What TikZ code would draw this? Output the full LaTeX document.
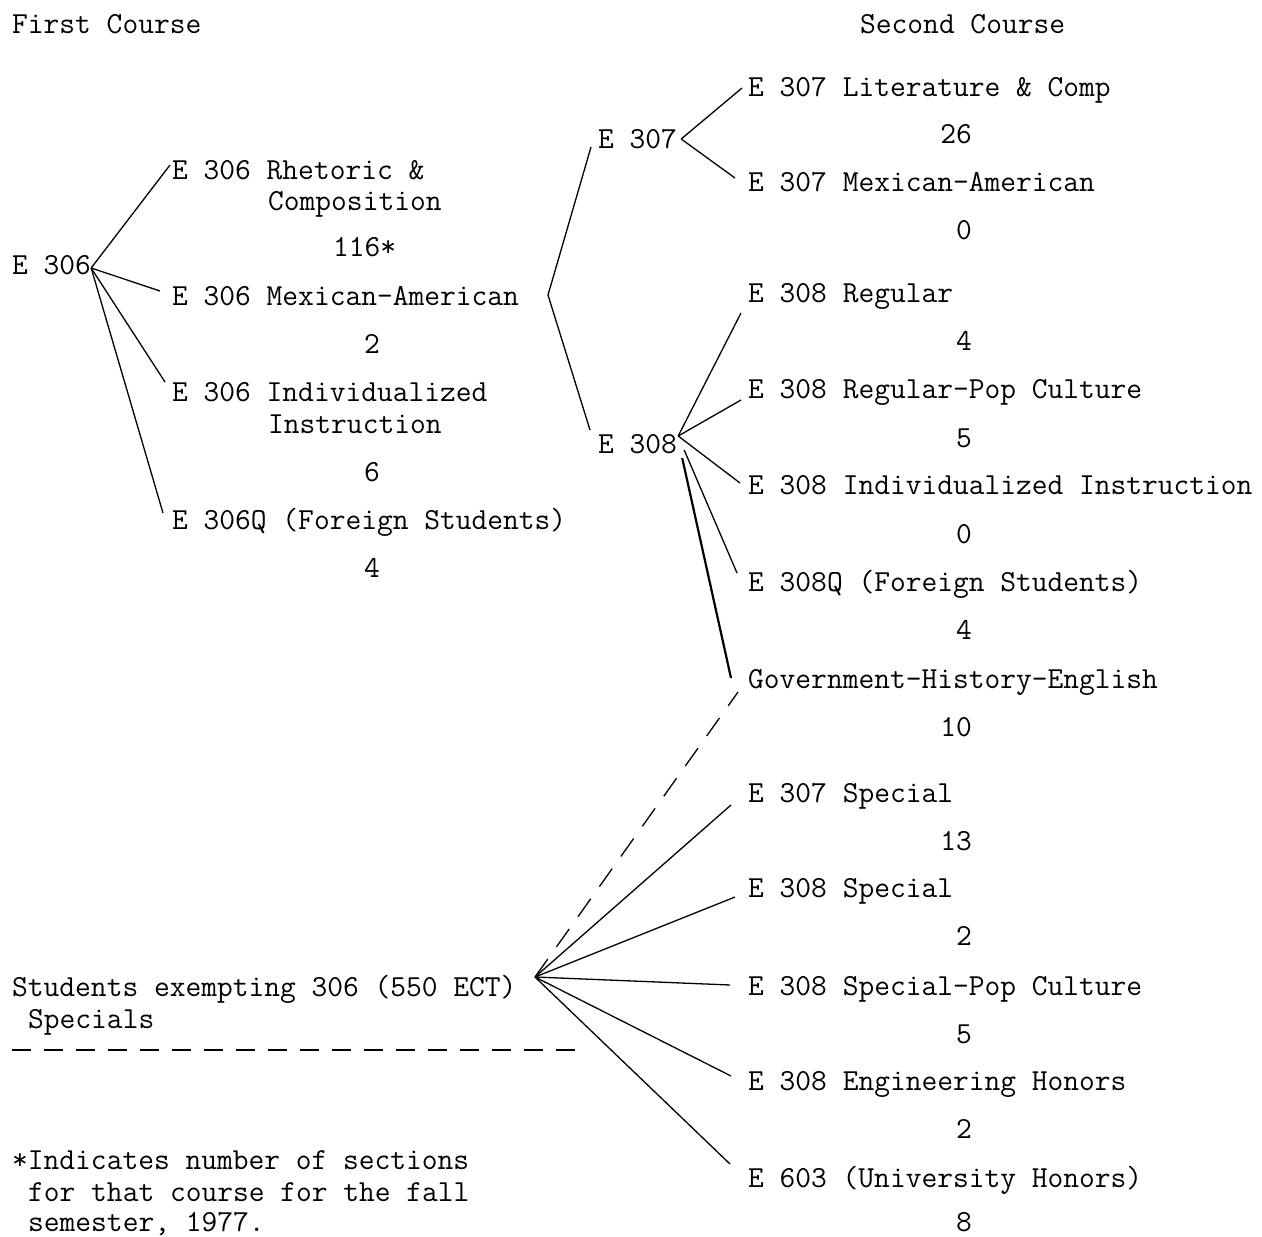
\documentclass[tikz,border=0pt]{standalone}
\usepackage{fontspec}
\begin{document}
\begin{tikzpicture}[x=1pt,y=-1pt,
  lbl/.style={anchor=base west,inner sep=0pt,font=\fontsize{30.6}{32}\selectfont\ttfamily},
  num/.style={anchor=base east,inner sep=0pt,font=\fontsize{30.6}{32}\selectfont\ttfamily},
  conn/.style={line width=1.3pt},
  heavy/.style={line width=2.2pt},
  dashconn/.style={line width=1.3pt,dash pattern=on 22pt off 15pt},
  sep/.style={line width=1.3pt,dash pattern=on 19pt off 13pt}]
\useasboundingbox (0,0) rectangle (1262,1237);
% headings
\node[lbl] (h1) at (12,33) {First Course};
\node[lbl] (h2) at (860,33) {Second Course};
% first course
\node[lbl] (e306) at (12,274) {E 306};
\node[lbl] (rhet) at (172,179) {E 306 Rhetoric \&};
\node[lbl] (rhetb) at (268,210) {Composition};
\node[lbl] (n116) at (333,256) {116*};
\node[lbl] (mex6) at (172,305) {E 306 Mexican-American};
\node[num] (n2a) at (380,353) {2};
\node[lbl] (ind6) at (172,401) {E 306 Individualized};
\node[lbl] (ind6b) at (268,433) {Instruction};
\node[num] (n6) at (380,481) {6};
\node[lbl] (q6) at (172,529) {E 306Q (Foreign Students)};
\node[num] (n4a) at (380,577) {4};
% middle
\node[lbl] (e307) at (598,148) {E 307};
\node[lbl] (e308) at (598,453) {E 308};
% second course
\node[lbl] (lit7) at (748,96) {E 307 Literature \& Comp};
\node[num] (n26) at (972,143) {26};
\node[lbl] (mex7) at (748,191) {E 307 Mexican-American};
\node[num] (n0a) at (972,239) {0};
\node[lbl] (reg8) at (748,302) {E 308 Regular};
\node[num] (n4b) at (972,350) {4};
\node[lbl] (pop8) at (748,398) {E 308 Regular-Pop Culture};
\node[num] (n5a) at (972,447) {5};
\node[lbl] (ind8) at (748,494) {E 308 Individualized Instruction};
\node[num] (n0b) at (972,543) {0};
\node[lbl] (q8) at (748,591) {E 308Q (Foreign Students)};
\node[num] (n4c) at (972,639) {4};
\node[lbl] (gov) at (748,688) {Government-History-English};
\node[num] (n10) at (972,736) {10};
\node[lbl] (sp7) at (748,802) {E 307 Special};
\node[num] (n13) at (972,850) {13};
\node[lbl] (sp8) at (748,897) {E 308 Special};
\node[num] (n2b) at (972,945) {2};
\node[lbl] (spop) at (748,995) {E 308 Special-Pop Culture};
\node[num] (n5b) at (972,1043) {5};
\node[lbl] (eng) at (748,1090) {E 308 Engineering Honors};
\node[num] (n2c) at (972,1138) {2};
\node[lbl] (uh) at (748,1187) {E 603 (University Honors)};
\node[num] (n8) at (972,1231) {8};
% lower left
\node[lbl] (stud) at (12,996) {Students exempting 306 (550 ECT)};
\node[lbl] (spec) at (28,1028) {Specials};
\node[lbl] (fn1) at (12,1169) {*Indicates number of sections};
\node[lbl] (fn2) at (28,1201) {for that course for the fall};
\node[lbl] (fn3) at (28,1231) {semester, 1977.};
% fan vertices
\coordinate (v306) at ([shift={(0pt,6pt)}]e306.base east);
\coordinate (br) at (548,295);
\coordinate (v307) at ([shift={(4pt,9pt)}]e307.base east);
\coordinate (v308) at ([shift={(1pt,17pt)}]e308.base east);
\coordinate (vsp) at (535,977);
% E 306 fan
\draw[conn] (v306) -- ([shift={(-2pt,14pt)}]rhet.base west);
\draw[conn] (v306) -- ([shift={(-12pt,14pt)}]mex6.base west);
\draw[conn] (v306) -- ([shift={(-7pt,19pt)}]ind6.base west);
\draw[conn] (v306) -- ([shift={(-9pt,16pt)}]q6.base west);
% bracket
\draw[conn] ([shift={(-7pt,1pt)}]e307.base west) -- (br) -- ([shift={(-8pt,23pt)}]e308.base west);
% E 307 fan
\draw[conn] (v307) -- ([shift={(-6pt,8pt)}]lit7.base west);
\draw[conn] (v307) -- ([shift={(-13pt,13pt)}]mex7.base west);
% E 308 fan
\draw[conn] (v308) -- ([shift={(-7pt,-11pt)}]reg8.base west);
\draw[conn] (v308) -- ([shift={(-7pt,-2pt)}]pop8.base west);
\draw[conn] (v308) -- ([shift={(-8pt,11pt)}]ind8.base west);
\draw[conn] ([shift={(7pt,3pt)}]e308.base east) -- ([shift={(-11pt,18pt)}]q8.base west);
\draw[heavy] ([shift={(5pt,-5pt)}]e308.base east) -- ([shift={(-17pt,10pt)}]gov.base west);
% specials fan
\draw[dashconn] (vsp) -- ([shift={(-10pt,-4pt)}]gov.base west);
\draw[conn] (vsp) -- ([shift={(-17pt,-3pt)}]sp7.base west);
\draw[conn] (vsp) -- ([shift={(-13pt,0pt)}]sp8.base west);
\draw[conn] (vsp) -- ([shift={(-18pt,10pt)}]spop.base west);
\draw[conn] (vsp) -- ([shift={(-17pt,14pt)}]eng.base west);
\draw[conn] (vsp) -- ([shift={(-18pt,23pt)}]uh.base west);
% separator
\coordinate (d1) at (12,1050);
\coordinate (d2) at (575,1050);
\draw[sep] (d1) -- (d2);
\end{tikzpicture}
\end{document}
